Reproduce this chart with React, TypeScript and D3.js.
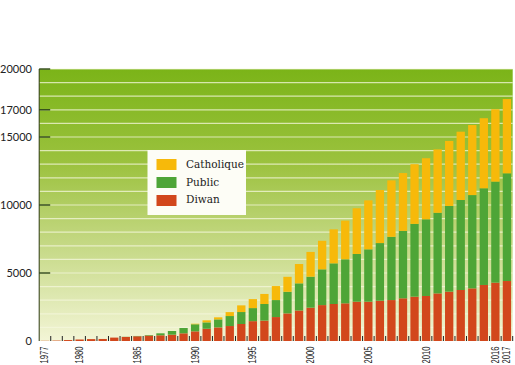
import React from "react";
import * as d3 from "d3";

const years: number[] = d3.range(1977, 2018);
const diwan = [15,30,70,110,140,150,250,300,350,400,420,465,565,710,900,1000,1100,1250,1460,1500,1760,2030,2240,2450,2640,2720,2770,2890,2890,2960,3010,3140,3260,3310,3500,3630,3750,3870,4120,4290,4410];
const publicV = [0,0,0,0,0,0,0,10,20,40,145,270,390,520,470,590,735,880,960,1220,1250,1590,2000,2280,2630,2990,3240,3510,3850,4240,4650,4960,5350,5640,5930,6300,6620,6860,7110,7430,7920];
const catholique = [0,0,0,0,0,0,0,0,0,0,0,0,0,40,150,150,290,490,660,740,1030,1100,1420,1820,2100,2500,2840,3360,3600,3900,4150,4250,4390,4490,4660,4780,5020,5150,5150,5320,5460];
const yTickValues = [0, 5000, 10000, 15000, 17000, 20000];
const xLabelYears = [1977, 1980, 1985, 1990, 1995, 2000, 2005, 2010, 2016, 2017];
const seriesKeys = ["Diwan", "Public", "Catholique"];
const seriesColors: Record<string, string> = { Diwan: "#d2471c", Public: "#4ea537", Catholique: "#f7b90a" };
const legendOrder = ["Catholique", "Public", "Diwan"];

export default function App() {
  const W = 515, H = 365;
  const left = 39.2, right = 512.7, top = 69, bottom = 341;
  const x = d3.scaleBand<number>().domain(years).range([left, right]).padding(0);
  const y = d3.scaleLinear().domain([0, 20000]).range([bottom, top]);
  const rows = years.map((yr, i) => ({ year: yr, Diwan: diwan[i], Public: publicV[i], Catholique: catholique[i] }));
  const stacked = d3.stack<any>().keys(seriesKeys)(rows);
  const bw = x.bandwidth();
  const barW = bw * 0.72;
  const grid = d3.range(1000, 20001, 1000);

  return (
    <div style={{ position: "fixed", left: 0, top: 0 }}>
      <svg width={W} height={H} style={{ display: "block", background: "#fff" }}>
        <defs>
          <linearGradient id="bg" x1="0" y1="0" x2="0" y2="1">
            <stop offset="0" stopColor="#7bb418" />
            <stop offset="0.35" stopColor="#9cc23f" />
            <stop offset="0.6" stopColor="#bfd57a" />
            <stop offset="1" stopColor="#f3f5d6" />
          </linearGradient>
        </defs>
        <rect x={left} y={top} width={right - left} height={bottom - top} fill="url(#bg)" />
        {grid.map((g) => (
          <line key={g} x1={left} x2={right} y1={y(g)} y2={y(g)} stroke="#f4f7dc" strokeOpacity={0.75} strokeWidth={1.2} />
        ))}
        {stacked.map((s) => (
          <g key={s.key} fill={seriesColors[s.key]}>
            {s.map((d: any, i: number) => {
              const h = y(d[0]) - y(d[1]);
              if (h <= 0) return null;
              return <rect key={i} x={(x(years[i]) as number) + (bw - barW) / 2} y={y(d[1])} width={barW} height={h} />;
            })}
          </g>
        ))}
        <line x1={left} x2={left} y1={top} y2={bottom} stroke="#2e3a10" strokeWidth={1} />
        {yTickValues.map((v) => (
          <g key={v}>
            {v > 0 && <line x1={left} x2={left + 11} y1={y(v)} y2={y(v)} stroke="#1f3a0a" strokeWidth={1.3} />}
            <text x={32} y={y(v) + 4} textAnchor="end" fontSize={11} fontFamily="Lato, 'Open Sans', sans-serif" fill="#222">{v}</text>
          </g>
        ))}
        {years.map((yr) => (
          <line key={yr} x1={(x(yr) as number) + bw} x2={(x(yr) as number) + bw} y1={bottom - 5} y2={bottom} stroke="#222" strokeWidth={1} />
        ))}
        {xLabelYears.map((yr) => {
          const cx = (x(yr) as number) + bw / 2;
          return (
            <text key={yr} transform={`translate(${cx + 3.5},346.5) rotate(-90)`} textAnchor="end" fontSize={10} textLength={17} lengthAdjust="spacingAndGlyphs" fontFamily="'Liberation Sans Narrow', 'Liberation Sans', Arial, sans-serif" fill="#222">{yr}</text>
          );
        })}
        <rect x={147.5} y={150} width={98.5} height={65} fill="#fdfdf6" />
        {legendOrder.map((k, i) => (
          <g key={k}>
            <rect x={156.5} y={159 + i * 18} width={20} height={11} fill={seriesColors[k]} />
            <text x={186} y={168 + i * 17.5} fontSize={10.5} fontFamily="'DejaVu Serif', 'Liberation Serif', serif" fill="#222">{k}</text>
          </g>
        ))}
      </svg>
    </div>
  );
}
